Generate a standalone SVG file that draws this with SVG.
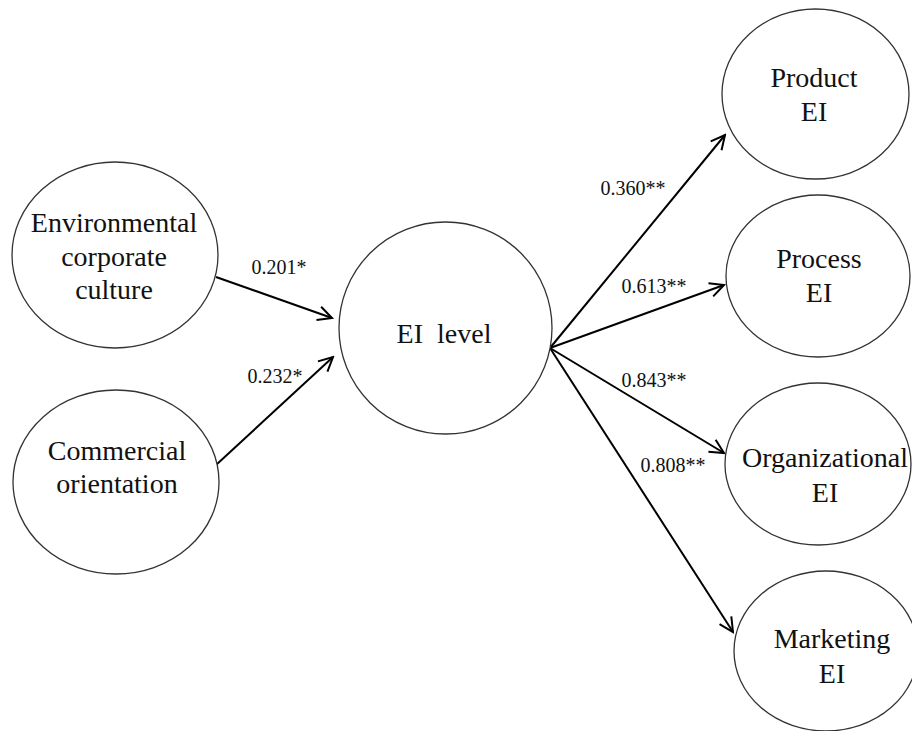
<svg xmlns="http://www.w3.org/2000/svg" width="912" height="731" viewBox="0 0 912 731">
<style>
.node ellipse{fill:#fff;stroke:#333;stroke-width:1.3}
.node text{font-family:'Liberation Serif','DejaVu Serif',serif;font-size:28px;fill:#111;text-anchor:middle}
.lbl{font-family:'Liberation Serif','DejaVu Serif',serif;font-size:20px;fill:#111;text-anchor:middle}
.edge{stroke:#000;stroke-width:2;fill:none}
</style>
<defs>
<marker id="arr" viewBox="-17 -9 19 18" refX="0" refY="0" markerWidth="19" markerHeight="18" markerUnits="userSpaceOnUse" orient="auto">
<path d="M-14,-7 L0,0 L-14,7" fill="none" stroke="#000" stroke-width="2"/>
</marker>
</defs>
<rect width="912" height="731" fill="#fff"/>
<g id="connectors">
<line class="edge" x1="216" y1="277" x2="332" y2="318" marker-end="url(#arr)"/>
<line class="edge" x1="216" y1="465" x2="333" y2="357" marker-end="url(#arr)"/>
<line class="edge" x1="550" y1="348" x2="725" y2="135" marker-end="url(#arr)"/>
<line class="edge" x1="550" y1="348" x2="724" y2="285" marker-end="url(#arr)"/>
<line class="edge" x1="550" y1="348" x2="724" y2="453" marker-end="url(#arr)"/>
<line class="edge" x1="550" y1="348" x2="733" y2="632" marker-end="url(#arr)"/>
<text class="lbl" x="279" y="274">0.201*</text>
<text class="lbl" x="275" y="383">0.232*</text>
<text class="lbl" x="633" y="195">0.360**</text>
<text class="lbl" x="654" y="293">0.613**</text>
<text class="lbl" x="654" y="387">0.843**</text>
<text class="lbl" x="673" y="472">0.808**</text>
</g>
<g id="env" class="node">
<ellipse cx="115" cy="255" rx="103" ry="93"/>
<text x="114" y="232">Environmental</text>
<text x="114" y="266">corporate</text>
<text x="114" y="299">culture</text>
</g>
<g id="comm" class="node">
<ellipse cx="116" cy="482" rx="103" ry="92"/>
<text x="117" y="460">Commercial</text>
<text x="117" y="493">orientation</text>
</g>
<g id="eilevel" class="node">
<ellipse cx="445.5" cy="328" rx="106.5" ry="106"/>
<text x="444" y="343" xml:space="preserve">EI  level</text>
</g>
<g id="product" class="node">
<ellipse cx="815.5" cy="94" rx="93.5" ry="85"/>
<text x="814" y="87">Product</text>
<text x="814" y="121">EI</text>
</g>
<g id="process" class="node">
<ellipse cx="818" cy="276" rx="92" ry="81"/>
<text x="819" y="268">Process</text>
<text x="819" y="302">EI</text>
</g>
<g id="org" class="node">
<ellipse cx="818" cy="464" rx="93" ry="81"/>
<text x="825" y="467">Organizational</text>
<text x="825" y="502">EI</text>
</g>
<g id="marketing" class="node">
<ellipse cx="826" cy="651" rx="92" ry="80"/>
<text x="832" y="648">Marketing</text>
<text x="832" y="683">EI</text>
</g>
</svg>
